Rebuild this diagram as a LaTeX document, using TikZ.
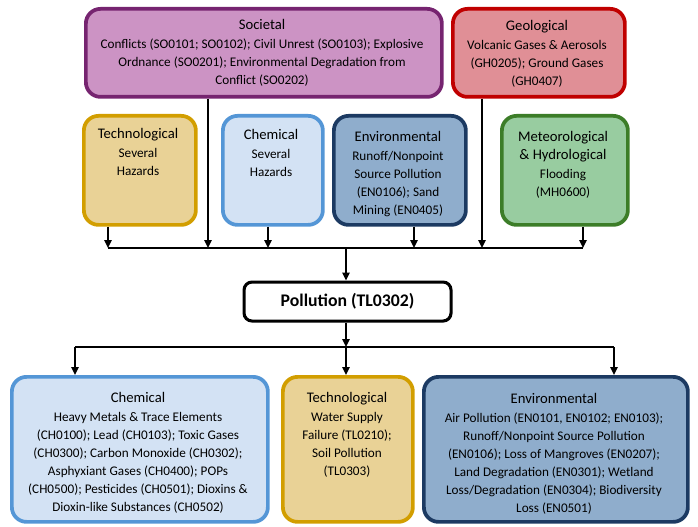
\documentclass[tikz,border=0pt]{standalone}
\usepackage{fontspec}
\setmainfont{Carlito}
\usetikzlibrary{arrows.meta}
\definecolor{socF}{RGB}{204,147,196}
\definecolor{socD}{RGB}{118,36,112}
\definecolor{geoF}{RGB}{224,143,150}
\definecolor{geoD}{RGB}{192,0,0}
\definecolor{tecF}{RGB}{233,210,150}
\definecolor{tecD}{RGB}{210,158,0}
\definecolor{cheF}{RGB}{211,226,244}
\definecolor{cheD}{RGB}{84,150,214}
\definecolor{envF}{RGB}{143,173,204}
\definecolor{envD}{RGB}{28,58,98}
\definecolor{metF}{RGB}{152,204,160}
\definecolor{metD}{RGB}{60,125,40}
\tikzset{
  hbox/.style={draw, line width=2.8pt, rounded corners=11pt, anchor=north west, inner sep=0pt},
  htext/.style={anchor=north, align=center, inner sep=0pt, font=\fontsize{9.9}{13.5}\selectfont},
  arr/.style={line width=1.5pt, -{Triangle[length=6pt,width=5.5pt]}},
  busline/.style={line width=1.5pt},
}
\newcommand{\ttlf}[1]{{\fontsize{11}{13.5}\selectfont #1}}
\begin{document}
\begin{tikzpicture}[x=0.75pt,y=-0.75pt]
\useasboundingbox (0,0) rectangle (698,527);
% top row
\node[hbox, draw=socD, fill=socF, minimum width=267pt, minimum height=66pt] (soc) at (84,7) {};
\node[hbox, draw=geoD, fill=geoF, minimum width=129pt, minimum height=66pt] (geo) at (451,7) {};
% second row
\node[hbox, draw=tecD, fill=tecF, minimum width=84pt, minimum height=81.75pt] (tec1) at (82,114) {};
\node[hbox, draw=cheD, fill=cheF, minimum width=75pt, minimum height=81.75pt] (che1) at (221,114) {};
\node[hbox, draw=envD, fill=envF, minimum width=99pt, minimum height=81.75pt] (env1) at (332,114) {};
\node[hbox, draw=metD, fill=metF, minimum width=94.5pt, minimum height=81.75pt] (met) at (500,114) {};
% pollution
\node[draw, line width=2.3pt, rounded corners=6pt, fill=white, minimum width=155.25pt, minimum height=29.25pt, anchor=north west, inner sep=0pt] (pol) at (242.5,280.5) {};
\node[font=\fontsize{13.3}{15}\bfseries\selectfont, inner sep=0pt] (polt) at (pol.center) {Pollution (TL0302)};
% bottom row
\node[hbox, draw=cheD, fill=cheF, minimum width=192pt, minimum height=108.75pt] (che2) at (10,375) {};
\node[hbox, draw=tecD, fill=tecF, minimum width=97.5pt, minimum height=108.75pt] (tec2) at (281,375) {};
\node[hbox, draw=envD, fill=envF, minimum width=198pt, minimum height=108.75pt] (env2) at (422,375) {};
% texts
\node[htext] (soct) at (262,19) {\ttlf{Societal}\\[0.5pt] Conflicts (SO0101; SO0102); Civil Unrest (SO0103); Explosive\\ Ordnance (SO0201); Environmental Degradation from\\ Conflict (SO0202)};
\node[htext] (geot) at (537,20) {\ttlf{Geological}\\[0.5pt] Volcanic Gases \& Aerosols\\ (GH0205); Ground Gases\\ (GH0407)};
\node[htext] (tec1t) at (138,128) {\ttlf{Technological}\\[1pt] Several\\ Hazards};
\node[htext] (che1t) at (271,129) {\ttlf{Chemical}\\[1pt] Several\\ Hazards};
\node[htext] (env1t) at (398,131) {\ttlf{Environmental}\\[0.5pt] Runoff/Nonpoint\\ Source Pollution\\ (EN0106); Sand\\ Mining (EN0405)};
\node[htext] (mett) at (563,131) {\ttlf{Meteorological}\\ \ttlf{\& Hydrological}\\[0.5pt] Flooding\\ (MH0600)};
\node[htext] (che2t) at (138,392) {\ttlf{Chemical}\\[0.5pt] Heavy Metals \& Trace Elements\\ (CH0100); Lead (CH0103); Toxic Gases\\ (CH0300); Carbon Monoxide (CH0302);\\ Asphyxiant Gases (CH0400); POPs\\ (CH0500); Pesticides (CH0501); Dioxins \&\\ Dioxin-like Substances (CH0502)};
\node[htext] (tec2t) at (347,392) {\ttlf{Technological}\\[0.5pt] Water Supply\\ Failure (TL0210);\\ Soil Pollution\\ (TL0303)};
\node[htext] (env2t) at (554,393) {\ttlf{Environmental}\\[0.5pt] Air Pollution (EN0101, EN0102; EN0103);\\ Runoff/Nonpoint Source Pollution\\ (EN0106); Loss of Mangroves (EN0207);\\ Land Degradation (EN0301); Wetland\\ Loss/Degradation (EN0304); Biodiversity\\ Loss (EN0501)};
% upper bus
\coordinate (b1) at (108,248);
\coordinate (b2) at (208,248);
\coordinate (b3) at (268,248);
\coordinate (b4) at (414,248);
\coordinate (b5) at (482,248);
\coordinate (b6) at (583,248);
\coordinate (bc) at (346,248);
\draw[busline] (b1) -- (b6);
\draw[arr] (tec1.south -| b1) -- (b1);
\draw[arr] (soc.south -| b2) -- (b2);
\draw[arr] (che1.south -| b3) -- (b3);
\draw[arr] (env1.south -| b4) -- (b4);
\draw[arr] (geo.south -| b5) -- (b5);
\draw[arr] (met.south -| b6) -- (b6);
\draw[arr] (bc) -- (pol.north -| bc);
% lower bus
\coordinate (c1) at (75,347);
\coordinate (c2) at (346,347);
\coordinate (c3) at (614,347);
\draw[busline] (c1) -- (c3);
\draw[arr] (pol.south -| c2) -- (c2);
\draw[arr] (c1) -- (che2.north -| c1);
\draw[arr] (c2) -- (tec2.north -| c2);
\draw[arr] (c3) -- (env2.north -| c3);
\end{tikzpicture}
\end{document}
